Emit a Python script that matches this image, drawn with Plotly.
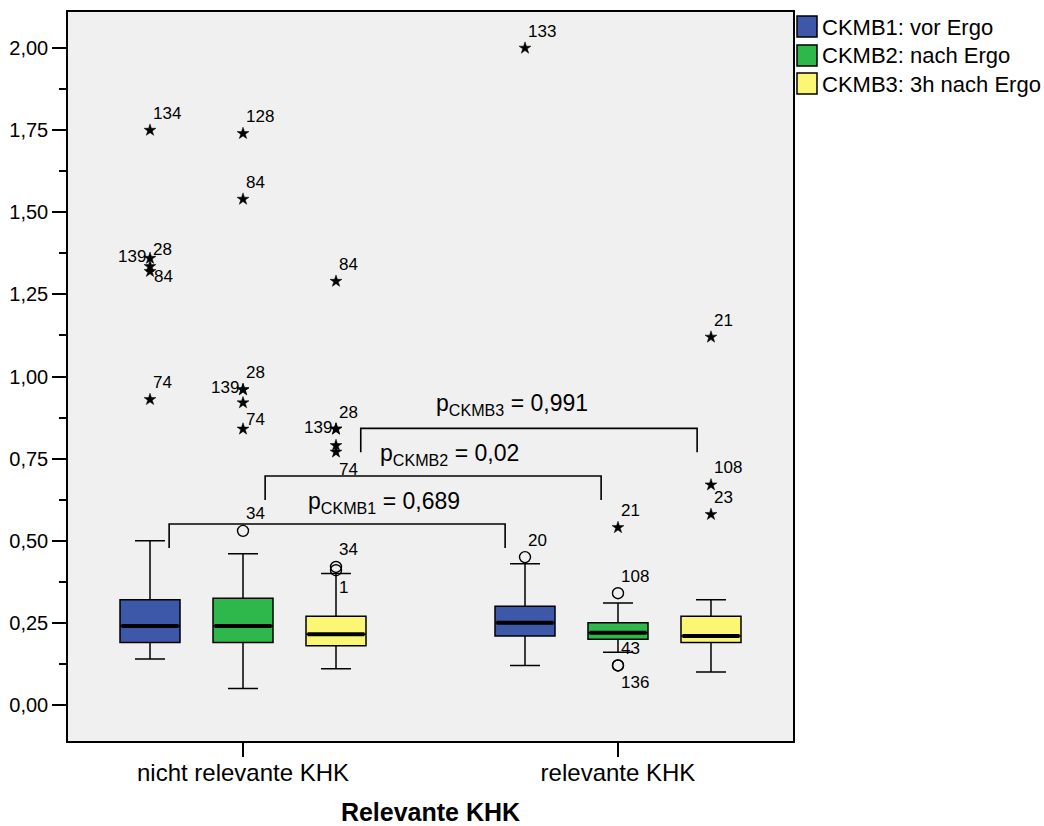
import plotly.graph_objects as go

# ---- data -----------------------------------------------------------------
groups = ["nicht relevante KHK", "relevante KHK"]
series_keys = ["CKMB1", "CKMB2", "CKMB3"]
series_names = ["CKMB1: vor Ergo", "CKMB2: nach Ergo", "CKMB3: 3h nach Ergo"]
fill_colors = ["#3d58a8", "#2eb84b", "#fbf774"]

# box summaries, one value per group
lower_fence = {"CKMB1": [0.14, 0.12], "CKMB2": [0.05, 0.16], "CKMB3": [0.11, 0.10]}
q1 = {"CKMB1": [0.19, 0.21], "CKMB2": [0.19, 0.20], "CKMB3": [0.18, 0.19]}
median = {"CKMB1": [0.24, 0.25], "CKMB2": [0.24, 0.22], "CKMB3": [0.215, 0.21]}
q3 = {"CKMB1": [0.32, 0.30], "CKMB2": [0.325, 0.25], "CKMB3": [0.27, 0.27]}
upper_fence = {"CKMB1": [0.50, 0.43], "CKMB2": [0.46, 0.31], "CKMB3": [0.40, 0.32]}

# single cases outside the whiskers ("o" = outlier, "*" = extreme value)
out_series = ["CKMB1", "CKMB1", "CKMB1", "CKMB1", "CKMB1",
              "CKMB2", "CKMB2", "CKMB2", "CKMB2", "CKMB2", "CKMB2", "CKMB2",
              "CKMB3", "CKMB3", "CKMB3", "CKMB3", "CKMB3", "CKMB3", "CKMB3",
              "CKMB1", "CKMB1",
              "CKMB2", "CKMB2", "CKMB2", "CKMB2",
              "CKMB3", "CKMB3", "CKMB3"]
out_group = [0, 0, 0, 0, 0,
             0, 0, 0, 0, 0, 0, 0,
             0, 0, 0, 0, 0, 0, 0,
             1, 1,
             1, 1, 1, 1,
             1, 1, 1]
out_value = [1.75, 1.36, 1.335, 1.32, 0.93,
             1.74, 1.54, 0.96, 0.96, 0.92, 0.84, 0.53,
             1.29, 0.84, 0.84, 0.79, 0.77, 0.42, 0.41,
             2.00, 0.45,
             0.54, 0.34, 0.12, 0.12,
             1.12, 0.67, 0.58]
out_case = ["134", "139", "28", "84", "74",
            "128", "84", "139", "28", "74", "", "34",
            "84", "139", "28", "", "74", "34", "1",
            "133", "20",
            "21", "108", "43", "136",
            "21", "108", "23"]
out_kind = ["*", "*", "*", "*", "*",
            "*", "*", "*", "*", "*", "*", "o",
            "*", "*", "*", "*", "*", "o", "o",
            "*", "o",
            "*", "o", "o", "o",
            "*", "*", "*"]
out_label_side = ["ne", "w", "ne", "e", "ne",
                  "ne", "ne", "w", "ne", "se", "ne", "ne",
                  "ne", "w", "ne", "ne", "se", "ne", "se",
                  "ne", "ne",
                  "ne", "ne", "ne", "se",
                  "ne", "ne", "ne"]

# Mann-Whitney p values between the two groups
p_keys = ["CKMB1", "CKMB2", "CKMB3"]
p_values = ["0,689", "0,02", "0,991"]

# ---- geometry -------------------------------------------------------------
FONT = "Liberation Sans, Arial, sans-serif"
group_pos = [0.0, 1.0]
series_offset = {"CKMB1": -0.248, "CKMB2": 0.0, "CKMB3": 0.248}
BOX_W = 0.16

PLOT_L, PLOT_R, PLOT_T, PLOT_B = 68, 793, 12, 741


def paper_x(px):
    return (px - PLOT_L) / (PLOT_R - PLOT_L)


def paper_y(py):
    return (PLOT_B - py) / (PLOT_B - PLOT_T)


fig = go.Figure()

for key, color in zip(series_keys, fill_colors):
    xs = [g + series_offset[key] for g in group_pos]
    fig.add_trace(go.Box(
        x=xs, q1=q1[key], median=median[key], q3=q3[key],
        lowerfence=lower_fence[key], upperfence=upper_fence[key],
        width=BOX_W, whiskerwidth=0.5, boxpoints=False,
        fillcolor=color, line=dict(color="black", width=1.5),
        hoverinfo="skip", showlegend=False,
    ))
    # heavy median bar
    mx, my = [], []
    for x, m in zip(xs, median[key]):
        mx += [x - BOX_W / 2 + 0.004, x + BOX_W / 2 - 0.004, None]
        my += [m, m, None]
    fig.add_trace(go.Scatter(x=mx, y=my, mode="lines",
                             line=dict(color="black", width=4),
                             hoverinfo="skip", showlegend=False))

# outlier / extreme markers
ox = [group_pos[g] + series_offset[s] for s, g in zip(out_series, out_group)]
for kind, symbol, size in [("o", "circle-open", 11), ("*", "star", 9)]:
    idx = [i for i, k in enumerate(out_kind) if k == kind]
    fig.add_trace(go.Scatter(
        x=[ox[i] for i in idx], y=[out_value[i] for i in idx], mode="markers",
        marker=dict(symbol=symbol, size=size, color="black",
                    line=dict(color="black", width=1.4 if kind == "o" else 0.5)),
        hoverinfo="skip", showlegend=False,
    ))

# case-number labels
side_style = {
    "ne": dict(xanchor="left", xshift=1, yshift=17),
    "e": dict(xanchor="left", xshift=2, yshift=-5),
    "se": dict(xanchor="left", xshift=1, yshift=-17),
    "w": dict(xanchor="right", xshift=-2, yshift=2),
}
for x, y, case, side in zip(ox, out_value, out_case, out_label_side):
    if not case:
        continue
    fig.add_annotation(x=x, y=y, text=case, showarrow=False, yanchor="middle",
                       font=dict(family=FONT, size=17, color="black"),
                       **side_style[side])

# significance brackets
bracket_left = [-0.197, 0.059, 0.314]
bracket_right = [0.699, 0.955, 1.211]
bracket_top = [0.551, 0.697, 0.842]
bracket_drop = 0.073
label_x = [0.376, 0.55, 0.717]
label_y = [0.617, 0.761, 0.915]
for i, (key, p) in enumerate(zip(p_keys, p_values)):
    l, r, t = bracket_left[i], bracket_right[i], bracket_top[i]
    fig.add_shape(type="path", xref="x", yref="y",
                  path=f"M {l} {t - bracket_drop} L {l} {t} L {r} {t} L {r} {t - bracket_drop}",
                  line=dict(color="black", width=1.6))
    fig.add_annotation(x=label_x[i], y=label_y[i], xref="x", yref="y",
                       text=f"p<sub>{key}</sub> = {p}", showarrow=False,
                       xanchor="center", yanchor="middle",
                       font=dict(family=FONT, size=23, color="black"))

# legend drawn beside the plot frame
row_top = [16, 45, 73]
for name, color, top in zip(series_names, fill_colors, row_top):
    fig.add_shape(type="rect", xref="paper", yref="paper",
                  x0=paper_x(797), x1=paper_x(817),
                  y0=paper_y(top + 21), y1=paper_y(top),
                  fillcolor=color, line=dict(color="black", width=1.5))
    fig.add_annotation(xref="paper", yref="paper",
                       x=paper_x(820), y=paper_y(top + 11), text=name,
                       showarrow=False, xanchor="left", yanchor="middle",
                       font=dict(family=FONT, size=22, color="black"))

fig.update_layout(
    width=1044, height=826,
    margin=dict(l=PLOT_L, r=1044 - PLOT_R, t=PLOT_T, b=826 - PLOT_B),
    paper_bgcolor="white", plot_bgcolor="#f0f0f0",
    separators=",.",
    font=dict(family=FONT, color="black"),
    showlegend=False,
)
fig.update_xaxes(
    range=[-0.4667, 1.4667], tickvals=group_pos, ticktext=groups,
    ticks="outside", ticklen=14, tickwidth=1.5, tickcolor="black",
    ticklabelstandoff=-5,
    showgrid=False, zeroline=False, automargin=False,
    showline=True, linecolor="black", linewidth=1.5, mirror=True,
    tickfont=dict(family=FONT, size=24),
    title=dict(text="<b>Relevante KHK</b>", font=dict(family=FONT, size=25),
               standoff=21),
)
fig.update_yaxes(
    range=[-0.11, 2.11], tick0=0, dtick=0.25, tickformat=".2f",
    ticks="outside", ticklen=14, tickwidth=1.5, tickcolor="black",
    minor=dict(dtick=0.125, ticks="outside", ticklen=7, tickwidth=1.5,
               tickcolor="black"),
    showgrid=False, zeroline=False, automargin=False,
    showline=True, linecolor="black", linewidth=1.5, mirror=True,
    tickfont=dict(family=FONT, size=20),
)

fig.write_html("out.html")
